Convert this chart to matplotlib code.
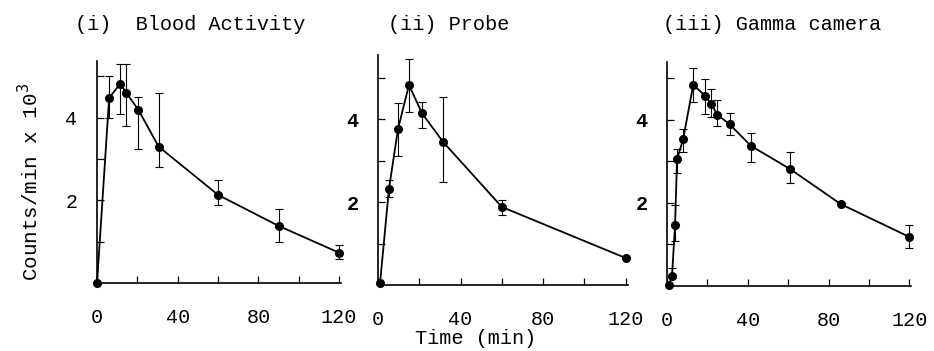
import numpy as np
import matplotlib
matplotlib.use("Agg")
import matplotlib.pyplot as plt

plt.rcParams['font.family'] = ['Liberation Mono', 'DejaVu Sans Mono']

# (i) Blood activity
t1 = [0, 6, 11.5, 14.5, 20.5, 30.5, 60, 90, 120]
y1 = [0.0, 4.48, 4.82, 4.6, 4.19, 3.3, 2.13, 1.38, 0.73]
lo1 = [0, 0.48, 0.72, 0.8, 0.94, 0.49, 0.24, 0.39, 0.15]
hi1 = [0, 0.52, 0.48, 0.7, 0.31, 1.3, 0.36, 0.41, 0.19]

# (ii) Probe
t2 = [1, 5.3, 9.7, 15, 21.3, 31.5, 60, 120]
y2 = [0.05, 2.31, 3.76, 4.82, 4.14, 3.45, 1.88, 0.65]
lo2 = [0, 0.19, 0.66, 0.65, 0.36, 0.97, 0.19, 0]
hi2 = [0, 0.22, 0.62, 0.63, 0.27, 1.08, 0.17, 0]

# (iii) Gamma camera
t3 = [1, 2.5, 4, 5, 8, 13, 19, 22, 25, 31, 41.5, 61, 86, 120]
y3 = [0.03, 0.24, 1.47, 3.05, 3.53, 4.83, 4.57, 4.37, 4.11, 3.89, 3.37, 2.81, 1.97, 1.18]
lo3 = [0, 0.05, 0.38, 0.33, 0.3, 0.4, 0.44, 0.3, 0.26, 0.26, 0.4, 0.34, 0, 0.27]
hi3 = [0, 0.19, 0.48, 0.25, 0.24, 0.41, 0.4, 0.36, 0.36, 0.27, 0.31, 0.42, 0, 0.29]

titles = ['(i)  Blood Activity', '(ii) Probe', '(iii) Gamma camera']

fig = plt.figure(figsize=(9.34, 3.51), dpi=100)
boxes = [[0.1039, 0.194, 0.2614, 0.632, 5.37],
         [0.4047, 0.188, 0.2675, 0.655, 5.54],
         [0.7141, 0.185, 0.2617, 0.638, 5.38]]
data = [(t1, y1, lo1, hi1), (t2, y2, lo2, hi2), (t3, y3, lo3, hi3)]
title_x = [75, 388, 663]

for i, (box, (t, y, lo, hi)) in enumerate(zip(boxes, data)):
    ax = fig.add_axes(box[:4])
    ax.errorbar(t, y, yerr=[lo, hi], fmt='o-', color='black', ms=5.5, lw=1.3,
                elinewidth=0.8, capsize=3, capthick=0.8, clip_on=False, zorder=3)
    ax.set_xlim(0, 121)
    ax.set_ylim(0, box[4])
    ax.spines['top'].set_visible(False)
    ax.spines['right'].set_visible(False)
    ax.spines['left'].set_linewidth(1.2)
    ax.spines['bottom'].set_linewidth(1.2)
    ax.set_xticks(np.arange(0, 121, 20))
    ax.set_xticklabels(['0', '', '40', '', '80', '', '120'])
    ax.set_yticks([1, 2, 3, 4, 5])
    ax.set_yticklabels(['', '2', '', '4', ''])
    ax.tick_params(direction='in', length=5, width=0.9, labelsize=14.5)
    ax.tick_params(axis='x', pad=18)
    ax.tick_params(axis='y', pad=14)
    if i > 0:
        for lab in ax.get_yticklabels():
            lab.set_fontweight('bold')
    fig.text(title_x[i] / 934, 1 - 25 / 351, titles[i], fontsize=14.6,
             ha='left', va='center')

fig.text(476 / 934, 1 - 338 / 351, 'Time (min)', fontsize=14.6, ha='center', va='center')
fig.text(30 / 934, 1 - 182 / 351, r'Counts/min x 10$^3$', fontsize=15,
         rotation=90, ha='center', va='center')

fig.savefig('out.png', dpi=100)
